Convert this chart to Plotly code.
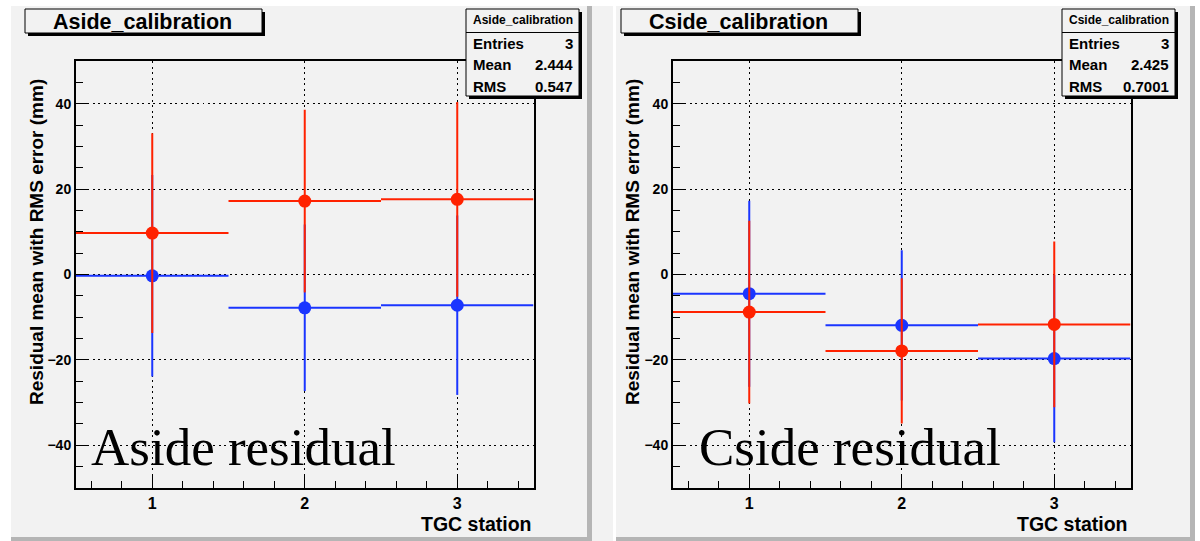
import plotly.graph_objects as go

# ---------------- data ----------------
stations = [1, 2, 3]
station_ticks = ["1", "2", "3"]
bin_half_width = 0.5

aside_blue_mean = [-0.3, -7.8, -7.2]
aside_blue_rms = [23.6, 19.5, 21.0]
aside_red_mean = [9.7, 17.2, 17.6]
aside_red_rms = [23.4, 21.4, 22.8]

cside_blue_mean = [-4.5, -11.9, -19.7]
cside_blue_rms = [21.8, 17.6, 19.6]
cside_red_mean = [-8.8, -17.9, -11.7]
cside_red_rms = [21.4, 17.0, 19.4]

panel_titles = ["Aside_calibration", "Cside_calibration"]
stat_labels = ["Entries", "Mean", "RMS"]
aside_stats = ["3", "2.444", "0.547"]
cside_stats = ["3", "2.425", "0.7001"]
big_labels = ["Aside residual", "Cside residual"]
y_title = "Residual mean with RMS error (mm)"
x_title = "TGC station"

# ---------------- style ----------------
W, H = 1200, 541
RED = "#ff2200"
BLUE = "#1a35ff"
PAD = "#f2f2f2"
SANS = "Liberation Sans, Arial, sans-serif"
SERIF = "Liberation Serif, Times New Roman, serif"


def px(x):
    return x / W


def py(y):
    return 1 - y / H


fig = go.Figure()


def add_series(mean, rms, color, xa, ya):
    fig.add_trace(go.Scatter(
        x=stations, y=mean, mode="markers",
        marker=dict(color=color, size=13, line=dict(width=0)),
        error_y=dict(type="data", array=rms, visible=True, width=0,
                     thickness=2, color=color),
        error_x=dict(type="constant", value=bin_half_width, visible=True,
                     width=0, thickness=2, color=color),
        xaxis=xa, yaxis=ya, showlegend=False, hoverinfo="x+y",
    ))


add_series(aside_blue_mean, aside_blue_rms, BLUE, "x", "y")
add_series(aside_red_mean, aside_red_rms, RED, "x", "y")
add_series(cside_blue_mean, cside_blue_rms, BLUE, "x2", "y2")
add_series(cside_red_mean, cside_red_rms, RED, "x2", "y2")

xaxis_common = dict(
    range=[0.5, 3.5], tickvals=stations, ticktext=station_ticks,
    ticks="inside", ticklen=13, tickwidth=1, tickcolor="black",
    showline=True, linecolor="black", linewidth=2, mirror=True,
    showgrid=True, gridcolor="black", gridwidth=1, griddash="2px,3.5px",
    zeroline=False,
    tickfont=dict(family=SANS, size=16, color="black", weight="bold"),
    minor=dict(dtick=0.2, tick0=0, ticks="inside", ticklen=7,
               tickcolor="black", tickwidth=1, showgrid=False),
    fixedrange=True,
)
yaxis_common = dict(
    range=[-50, 50], tick0=0, dtick=20,
    ticks="inside", ticklen=13, tickwidth=1, tickcolor="black",
    showline=True, linecolor="black", linewidth=2, mirror=True,
    showgrid=True, gridcolor="black", gridwidth=1, griddash="2px,3.5px",
    zeroline=False,
    tickfont=dict(family=SANS, size=14, color="black", weight="bold"),
    minor=dict(dtick=5, tick0=0, ticks="inside", ticklen=7,
               tickcolor="black", tickwidth=1, showgrid=False),
    fixedrange=True,
)

ydom = [py(488), py(61)]
fig.update_layout(
    width=W, height=H,
    margin=dict(l=0, r=0, t=0, b=0),
    paper_bgcolor="white",
    plot_bgcolor="rgba(0,0,0,0)",
    xaxis=dict(xaxis_common, domain=[px(76), px(533.5)], anchor="y"),
    yaxis=dict(yaxis_common, domain=ydom, anchor="x"),
    xaxis2=dict(xaxis_common, domain=[px(673), px(1130.5)], anchor="y2"),
    yaxis2=dict(yaxis_common, domain=ydom, anchor="x2"),
)

shapes = []
annotations = []


def rect(x0, y0, x1, y1, fill, line_color=None, line_width=0, layer="below"):
    shapes.append(dict(
        type="rect", xref="paper", yref="paper",
        x0=px(x0), x1=px(x1), y0=py(y1), y1=py(y0),
        fillcolor=fill,
        line=dict(color=line_color or fill, width=line_width),
        layer=layer,
    ))


# canvas / pads
rect(11, 6, 1200, 541, PAD)
rect(587, 6, 592, 541, "#b5b5b5")
rect(11, 537, 592, 541, "#b5b5b5")
rect(613, 6, 616, 541, "white")
rect(1190, 6, 1195, 541, "#b5b5b5")
rect(616, 537, 1195, 541, "#b5b5b5")
rect(1195, 0, 1200, 541, "white")


def text(x, y, s, size, xanchor="center", family=SANS, bold=True, angle=0):
    annotations.append(dict(
        x=px(x), y=py(y), xref="paper", yref="paper", text=s, showarrow=False,
        xanchor=xanchor, yanchor="middle", textangle=angle,
        font=dict(family=family, size=size, color="black",
                  weight="bold" if bold else "normal"),
    ))


for i, (dx, stats) in enumerate([(0, aside_stats), (596, cside_stats)]):
    # title box with shadow
    rect(25 + dx + 3, 9 + 3, 262 + dx + 3, 33 + 3, "black", layer="above")
    rect(25 + dx, 9, 262 + dx, 33, PAD, "black", 1, layer="above")
    text(142 + dx, 22, panel_titles[i], 21.5)
    # stats box with shadow
    rect(466 + dx + 3, 9 + 3, 579 + dx + 3, 96 + 3, "black", layer="above")
    rect(466 + dx, 9, 579 + dx, 96, PAD, "black", 1, layer="above")
    shapes.append(dict(type="line", xref="paper", yref="paper",
                       x0=px(466 + dx), x1=px(579 + dx), y0=py(32.5), y1=py(32.5),
                       line=dict(color="black", width=1), layer="above"))
    text(522.5 + dx, 20, panel_titles[i], 12)
    for j, (lab, val) in enumerate(zip(stat_labels, stats)):
        yy = 43.5 + j * 21.5
        text(471 + dx, yy, lab, 15, xanchor="left")
        text(575 + dx, yy, val, 15, xanchor="right")
    # axis titles
    text(36 + dx, 242, y_title, 19, angle=-90)
    text(534 + dx, 524, x_title, 19.5, xanchor="right")

# big serif labels (data coordinates)
annotations.append(dict(x=0.585, y=-40.5, xref="x", yref="y", text=big_labels[0],
                        showarrow=False, xanchor="left", yanchor="middle",
                        font=dict(family=SERIF, size=53, color="black")))
annotations.append(dict(x=0.66, y=-40.5, xref="x2", yref="y2", text=big_labels[1],
                        showarrow=False, xanchor="left", yanchor="middle",
                        font=dict(family=SERIF, size=53, color="black")))

fig.update_layout(shapes=shapes, annotations=annotations)
fig.write_html("out.html")
